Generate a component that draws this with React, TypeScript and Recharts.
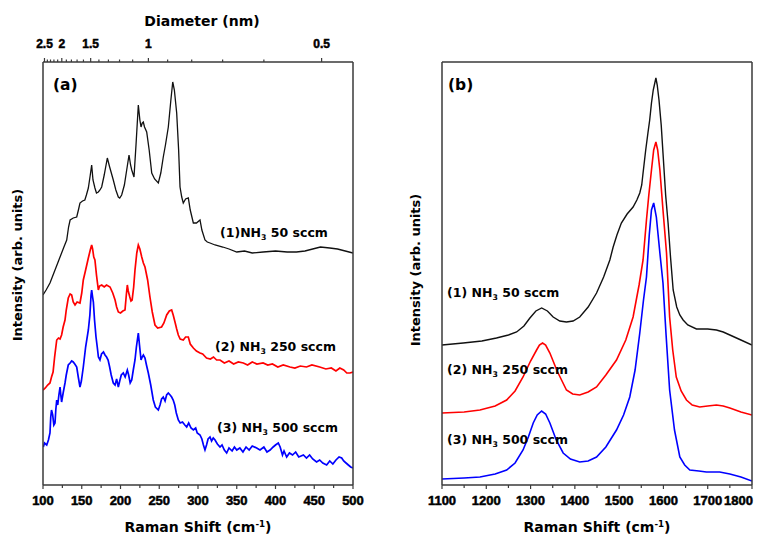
import React from "react";
import { LineChart, Line, XAxis, YAxis } from "recharts";

// (a) radial breathing mode region, intensity in arbitrary units (offset traces)
const rbmShift50 = [100, 104, 109, 112, 115.5, 120, 124, 127, 130.6, 133, 135, 139, 143.5, 146, 147.7, 151, 154, 156, 158.5, 161, 162.8, 164.5, 167, 169, 171.4, 173.5, 175.7, 179, 183, 186, 190.7, 194, 197.2, 199, 201.5, 205, 208, 211, 213, 214.5, 217.4, 220, 223, 225, 226.5, 228, 229.4, 231, 233.8, 237, 240.3, 244, 248.8, 252, 255.2, 258, 261.7, 265, 267.4, 269.5, 272.5, 275, 276.8, 279, 281, 284, 287.5, 290, 294, 298, 302.6, 305, 309, 312, 315.5, 322, 332, 340, 350, 360, 370, 384, 400, 415, 427, 438, 448, 458, 470, 480, 490, 500];
const rbmInt50 = [190, 195, 202, 208, 215, 224, 232, 238, 245, 258, 265, 267, 268, 276, 282, 284, 285, 290, 297, 310, 320, 305, 297, 292, 293, 295, 298, 310, 327, 318, 305, 295, 288, 287, 290, 300, 315, 330, 320, 315, 308, 340, 380, 365, 358, 362, 363, 358, 353, 335, 312, 306, 302, 312, 328, 340, 358, 385, 403, 395, 372, 335, 298, 288, 282, 286, 287, 275, 262, 262, 265, 255, 245, 243, 242, 240, 238, 236, 233, 234, 232, 233, 234, 233, 233, 234, 236, 238, 237, 236, 234, 232];

const rbmShift250 = [100, 103, 106, 109, 111, 113, 115, 117.7, 120, 122, 124, 126, 128.4, 130, 132.6, 135, 137, 139, 141.3, 144, 147.7, 150, 152, 155, 158.5, 161, 162.8, 164, 165.5, 167, 169, 171.4, 173, 175.7, 179, 182, 186.5, 190, 193, 195, 197.2, 200, 203, 205.8, 207.5, 208.8, 210, 212, 213.5, 215, 217, 218.7, 221, 223, 225, 227.4, 229.5, 231.6, 235, 238, 241, 244.5, 248, 253, 256, 259.6, 263, 266, 268, 270.3, 272.5, 274.6, 277, 281, 284, 287.5, 290, 294, 298, 302.6, 306, 311, 316, 320, 324, 328.4, 334, 340, 346, 352, 358.5, 364, 370, 376, 384, 390, 396, 403, 410, 418.7, 425, 432, 440, 447, 457, 465, 472, 478, 483, 488, 492, 496, 500];
const rbmInt250 = [95, 97, 100, 102, 108, 113, 128, 145, 147, 146, 150, 158, 165, 175, 187, 191, 190, 183, 180, 183, 182, 192, 205, 215, 227, 235, 240, 236, 228, 225, 210, 195, 199, 200, 198, 200, 198, 192, 185, 178, 173, 172, 174, 175, 190, 200, 194, 188, 184, 185, 198, 215, 232, 240, 236, 228, 222, 218, 205, 188, 173, 160, 157, 158, 162, 170, 174, 175, 170, 163, 156, 150, 146, 145, 148, 148, 141, 137, 134, 132, 131, 127, 126, 128, 125, 125, 122, 124, 121, 123, 122, 120, 123, 121, 122, 120, 121, 118, 120, 118, 117, 119, 118, 120, 118, 116, 117, 114, 117, 115, 112, 112, 113];

const rbmShift500 = [100.4, 102, 104.8, 107, 109, 110, 111, 112.5, 114, 115.5, 116.5, 117.7, 119, 120.5, 122, 123, 124, 126, 128.4, 130, 132.6, 135, 137, 139, 141, 143.5, 145.5, 147.7, 149.5, 152, 155, 158.5, 160.5, 162, 162.8, 164, 165, 166.5, 168.4, 170, 171.5, 173.5, 175.5, 178, 180, 182, 184, 186, 188, 190.7, 193, 195, 197.2, 199, 201, 203.6, 206, 208.8, 210.5, 212.5, 214.5, 216.5, 218.7, 220.5, 223, 224.5, 226.5, 228, 229.5, 231.6, 233.5, 235.9, 239, 242.3, 245, 248.8, 251, 253, 255.2, 257.5, 259.5, 261.7, 264, 266, 268, 270, 272, 274.6, 277, 280, 283, 285.4, 288, 291, 294, 297, 299, 302.6, 305, 307, 309, 311, 313, 315.5, 317.5, 319.7, 322, 325, 328.4, 331, 334, 337, 340, 344, 347, 350, 354, 358, 362, 366, 370, 375.7, 380, 385, 389, 393, 397, 400, 403.6, 406, 409, 411, 414.4, 418, 422, 426, 430, 436, 440, 444, 448, 453, 457, 461, 466, 470, 474, 478, 482, 485.4, 488, 491, 494, 497, 500];
const rbmInt500 = [38, 42, 40, 45, 52, 68, 75, 70, 60, 62, 75, 85, 80, 90, 98, 90, 83, 92, 102, 110, 120, 122, 124, 123, 121, 118, 108, 98, 104, 118, 138, 155, 170, 190, 195, 188, 183, 165, 148, 138, 128, 125, 131, 133, 130, 128, 125, 118, 110, 102, 100, 106, 98, 104, 110, 112, 108, 115, 110, 102, 105, 115, 125, 138, 152, 140, 125, 128, 130, 127, 120, 112, 100, 85, 78, 75, 80, 86, 88, 84, 90, 92, 90, 88, 85, 80, 72, 65, 62, 63, 60, 58, 62, 57, 55, 57, 52, 50, 46, 40, 35, 40, 46, 48, 44, 47, 45, 41, 38, 40, 35, 32, 37, 34, 38, 35, 37, 33, 38, 35, 39, 37, 35, 38, 33, 35, 38, 40, 42, 38, 30, 34, 28, 32, 30, 33, 28, 30, 27, 30, 26, 23, 25, 22, 20, 24, 21, 25, 28, 27, 24, 22, 20, 18, 17];

// (b) D and G band region
const gShift50 = [1100, 1148, 1190, 1223, 1250, 1268.5, 1285, 1298.5, 1312, 1325, 1338, 1351, 1366, 1381, 1396, 1411, 1430, 1449, 1465, 1479, 1486.5, 1495, 1505, 1518, 1531.5, 1540, 1546.6, 1551, 1554, 1560, 1565, 1569, 1573, 1577, 1583, 1586, 1590, 1595, 1599, 1605, 1610.5, 1616, 1622, 1630, 1637, 1644.5, 1655, 1674.5, 1700, 1719.6, 1735, 1750, 1775, 1800];
const gInt50 = [140, 142, 144, 147, 150, 153, 159, 167, 174, 177, 174, 168, 164, 163, 164, 168, 178, 192, 208, 225, 238, 250, 262, 271, 278, 285, 292, 300, 312, 335, 352, 365, 382, 395, 407, 400, 385, 360, 332, 290, 262, 228, 195, 178, 170, 165, 160, 156, 156, 155, 153, 150, 145, 140];

const gShift250 = [1100, 1150, 1185.7, 1220, 1246, 1265, 1283, 1300, 1313.6, 1320, 1327, 1334, 1343.6, 1360, 1381, 1395, 1411, 1430, 1449, 1470, 1494, 1515, 1531.5, 1545, 1554, 1561.7, 1567, 1573, 1578, 1583, 1587, 1592, 1599, 1607, 1614, 1621, 1629, 1640, 1652, 1665, 1682, 1700, 1719.6, 1735, 1750, 1775, 1800];
const gInt250 = [72, 73, 75, 79, 85, 94, 108, 124, 135, 140, 142, 140, 132, 114, 95, 91, 90, 93, 98, 110, 125, 145, 168, 200, 225, 265, 290, 315, 335, 343, 335, 315, 275, 232, 168, 135, 108, 94, 85, 80, 78, 79, 80, 79, 77, 73, 70];

const gShift500 = [1100, 1150, 1185.7, 1220, 1246, 1265, 1283, 1295, 1306, 1315, 1325, 1334, 1343.6, 1358, 1373.6, 1390, 1411, 1430, 1449, 1470, 1494, 1510, 1524, 1536, 1546.6, 1555, 1561.7, 1568, 1573, 1578, 1584, 1588, 1592, 1599, 1606, 1614, 1625, 1637, 1648, 1659.6, 1680, 1697, 1727, 1750, 1775, 1800];
const gInt500 = [6, 7, 8, 11, 15, 22, 35, 48, 62, 70, 74, 71, 62, 45, 32, 26, 23, 24, 28, 38, 55, 70, 88, 115, 152, 185, 208, 250, 275, 282, 268, 250, 232, 202, 150, 95, 55, 28, 20, 15, 14, 13, 13, 11, 8, 4];

// axis ticks
const ticksA = [100, 125, 150, 175, 200, 225, 250, 275, 300, 325, 350, 375, 400, 425, 450, 475, 500];
const ticksB = [1100, 1150, 1200, 1250, 1300, 1350, 1400, 1450, 1500, 1550, 1600, 1650, 1700, 1750, 1800];
const diameterTicks = [2.5, 2.4, 2.3, 2.2, 2.1, 2.0, 1.9, 1.8, 1.7, 1.6, 1.5, 1.4, 1.3, 1.2, 1.1, 1.0, 0.9, 0.8, 0.7, 0.6, 0.5];
const diameterLabels = [2.5, 2, 1.5, 1, 0.5];

// RBM frequency (cm-1) for a tube diameter (nm)
const rbmFromDiameter = (d: number) => 223.5 / d + 12.5;

const zip = (xs: number[], ys: number[]) => xs.map((x, i) => ({ x, y: ys[i] }));

const FONT = '"DejaVu Sans", sans-serif';
const TICK_FONT = "Liberation Sans, Arial, sans-serif";
const AXIS = "#3a3a3a";
// plot box: top 62, bottom 485; axes take 20px of it on each side
const MARGIN = { top: 42, bottom: 31 };
const AX = 20;

// heavy numerals: bold face plus a thin outline
const tickText = { fontFamily: TICK_FONT, fontWeight: 700, stroke: "#000", strokeWidth: 0.5 };

// lastAt: value whose label is pulled in to stay on the page
const renderBottomTick = (step: number, lastAt?: number) => (props: any) => {
  const { x, y, payload } = props;
  const major = Math.round(payload.value) % step === 0;
  const edge = payload.value === lastAt;
  return (
    <g key={`b-${payload.value}`}>
      <line x1={x} x2={x} y1={y} y2={y + (major ? 4 : 3)} stroke={AXIS} strokeWidth={1.2} />
      {major && (
        <text
          x={edge ? x + 1 : x}
          y={y + 20}
          textAnchor={edge ? "end" : "middle"}
          style={{ ...tickText, fontSize: 13 }}
          fill="#000"
        >
          {payload.value}
        </text>
      )}
    </g>
  );
};

const renderTopTick = (props: any) => {
  const { x, y, payload } = props;
  const label = diameterLabels.find((d) => Math.abs(rbmFromDiameter(d) - payload.value) < 0.01);
  return (
    <g key={`t-${payload.value}`}>
      <line x1={x} x2={x} y1={y} y2={y - (label !== undefined ? 4 : 2.5)} stroke={AXIS} strokeWidth={1.2} />
      {label !== undefined && (
        <text x={x} y={y - 14} textAnchor="middle" style={{ ...tickText, fontSize: 12 }} fill="#000">
          {label}
        </text>
      )}
    </g>
  );
};

const Tag = ({ left, top, size = 12.5, children }: any) => (
  <div
    style={{
      position: "absolute",
      left,
      top,
      fontFamily: FONT,
      fontWeight: "bold",
      fontSize: size,
      lineHeight: 1,
      whiteSpace: "nowrap",
      color: "#000",
    }}
  >
    {children}
  </div>
);

const Centered = ({ x, y, size = 14, rotate = false, children }: any) => (
  <div
    style={{
      position: "absolute",
      left: x,
      top: y,
      transform: `translate(-50%, -50%)${rotate ? " rotate(-90deg)" : ""}`,
      fontFamily: FONT,
      fontWeight: "bold",
      fontSize: size,
      lineHeight: 1,
      whiteSpace: "nowrap",
      color: "#000",
    }}
  >
    {children}
  </div>
);

const Sub = ({ children }: any) => (
  <span style={{ fontSize: "0.62em", position: "relative", top: "0.45em" }}>{children}</span>
);
const Sup = ({ children }: any) => (
  <span style={{ fontSize: "0.62em", position: "relative", top: "-0.55em" }}>{children}</span>
);

const NH3 = ({ n, rate, gap = true }: any) => (
  <>
    ({n}){gap ? " " : ""}NH<Sub>3</Sub> {rate} sccm
  </>
);

export default function App() {
  return (
    <div style={{ position: "absolute", left: 0, top: 0, width: 765, height: 536, background: "#fff" }}>
      {/* (a) low-frequency RBM panel */}
      <div style={{ position: "absolute", left: 0, top: 0 }}>
        <LineChart width={380} height={536} margin={{ ...MARGIN, left: 43 - AX, right: 27 - AX }}>
          <XAxis
            xAxisId="shift"
            type="number"
            dataKey="x"
            domain={[100, 500]}
            allowDataOverflow
            ticks={ticksA}
            interval={0}
            height={AX}
            tickSize={0}
            tickMargin={0}
            stroke={AXIS}
            strokeWidth={1.5}
            tick={renderBottomTick(50)}
          />
          <XAxis
            xAxisId="diam"
            orientation="top"
            type="number"
            dataKey="x"
            domain={[100, 500]}
            allowDataOverflow
            ticks={diameterTicks.map(rbmFromDiameter)}
            interval={0}
            height={AX}
            tickSize={0}
            tickMargin={0}
            stroke={AXIS}
            strokeWidth={1.5}
            tick={renderTopTick}
          />
          <YAxis yAxisId="i" type="number" domain={[0, 423]} allowDataOverflow width={AX} tick={false} tickLine={false} stroke={AXIS} strokeWidth={1.5} />
          <YAxis yAxisId="r" orientation="right" width={AX} tick={false} tickLine={false} stroke={AXIS} strokeWidth={1.5} />
          <Line xAxisId="shift" yAxisId="i" data={zip(rbmShift50, rbmInt50)} dataKey="y" stroke="#111" strokeWidth={1.3} dot={false} isAnimationActive={false} />
          <Line xAxisId="shift" yAxisId="i" data={zip(rbmShift250, rbmInt250)} dataKey="y" stroke="#ff0000" strokeWidth={1.7} dot={false} isAnimationActive={false} />
          <Line xAxisId="shift" yAxisId="i" data={zip(rbmShift500, rbmInt500)} dataKey="y" stroke="#0000ff" strokeWidth={1.7} dot={false} isAnimationActive={false} />
        </LineChart>
      </div>

      {/* (b) D / G band panel */}
      <div style={{ position: "absolute", left: 380, top: 0 }}>
        <LineChart width={385} height={536} margin={{ ...MARGIN, left: 62 - AX, right: 13 - AX }}>
          <XAxis
            xAxisId="shift"
            type="number"
            dataKey="x"
            domain={[1100, 1800]}
            allowDataOverflow
            ticks={ticksB}
            interval={0}
            height={AX}
            tickSize={0}
            tickMargin={0}
            stroke={AXIS}
            strokeWidth={1.5}
            tick={renderBottomTick(100, 1800)}
          />
          <XAxis xAxisId="top" orientation="top" type="number" domain={[1100, 1800]} height={AX} tick={false} tickLine={false} stroke={AXIS} strokeWidth={1.5} />
          <YAxis yAxisId="i" type="number" domain={[0, 423]} allowDataOverflow width={AX} tick={false} tickLine={false} stroke={AXIS} strokeWidth={1.5} />
          <YAxis yAxisId="r" orientation="right" width={AX} tick={false} tickLine={false} stroke={AXIS} strokeWidth={1.5} />
          <Line xAxisId="shift" yAxisId="i" data={zip(gShift50, gInt50)} dataKey="y" stroke="#111" strokeWidth={1.4} dot={false} isAnimationActive={false} />
          <Line xAxisId="shift" yAxisId="i" data={zip(gShift250, gInt250)} dataKey="y" stroke="#ff0000" strokeWidth={1.6} dot={false} isAnimationActive={false} />
          <Line xAxisId="shift" yAxisId="i" data={zip(gShift500, gInt500)} dataKey="y" stroke="#0000ff" strokeWidth={1.6} dot={false} isAnimationActive={false} />
        </LineChart>
      </div>

      {/* titles and annotations */}
      <Centered x={202} y={21}>Diameter (nm)</Centered>
      <Centered x={17} y={265} size={13} rotate>Intensity (arb. units)</Centered>
      <Centered x={415} y={270} size={13} rotate>Intensity (arb. units)</Centered>
      <Centered x={198} y={527}>Raman Shift (cm<Sup>-1</Sup>)</Centered>
      <Centered x={597} y={527}>Raman Shift (cm<Sup>-1</Sup>)</Centered>

      <Tag left={53} top={78} size={15.5}>(a)</Tag>
      <Tag left={448} top={78} size={15.5}>(b)</Tag>

      <Tag left={220} top={227}><NH3 n={1} rate={50} gap={false} /></Tag>
      <Tag left={215} top={341}><NH3 n={2} rate={250} /></Tag>
      <Tag left={217} top={422}><NH3 n={3} rate={500} /></Tag>

      <Tag left={447} top={287}><NH3 n={1} rate={50} /></Tag>
      <Tag left={447} top={364}><NH3 n={2} rate={250} /></Tag>
      <Tag left={447} top={434}><NH3 n={3} rate={500} /></Tag>
    </div>
  );
}
